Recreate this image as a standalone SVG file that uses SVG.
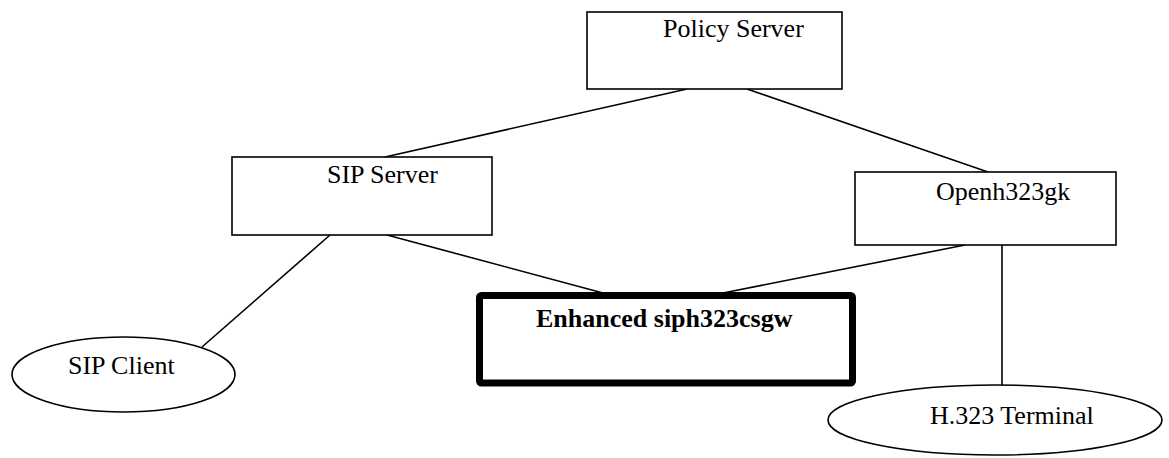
<svg xmlns="http://www.w3.org/2000/svg" width="1169" height="458" viewBox="0 0 1169 458">
<style>
.box{fill:#fff;stroke:#000;stroke-width:1.6}
.thick{fill:#fff;stroke:#000;stroke-width:7;stroke-linejoin:round}
.ell{fill:#fff;stroke:#000;stroke-width:1.6}
.lbl{font-family:"Liberation Serif","Times New Roman",serif;font-size:26px;fill:#000}
.bold{font-weight:bold}
.conn line{stroke:#000;stroke-width:1.6}
</style>
<rect width="1169" height="458" fill="#fff"/>
<g id="connectors" class="conn">
<line x1="687" y1="89" x2="385" y2="157"/>
<line x1="747" y1="89" x2="988" y2="172"/>
<line x1="330" y1="235" x2="202" y2="347"/>
<line x1="387" y1="235" x2="603" y2="293"/>
<line x1="965" y1="245" x2="723" y2="293"/>
<line x1="1002" y1="245" x2="1002" y2="385"/>
</g>
<g id="policy-server">
<rect class="box" x="587" y="12" width="255" height="77"/>
<text class="lbl" x="663" y="37">Policy Server</text>
</g>
<g id="sip-server">
<rect class="box" x="232" y="157" width="260" height="78"/>
<text class="lbl" x="327" y="183">SIP Server</text>
</g>
<g id="openh323gk">
<rect class="box" x="855" y="172" width="261" height="73"/>
<text class="lbl" x="936" y="200">Openh323gk</text>
</g>
<g id="enhanced-gw">
<rect class="thick" x="479.5" y="295.5" width="373" height="87.5" rx="2"/>
<text class="lbl bold" x="536" y="327">Enhanced siph323csgw</text>
</g>
<g id="sip-client">
<ellipse class="ell" cx="123.5" cy="374.5" rx="111.5" ry="37.5"/>
<text class="lbl" x="68" y="374">SIP Client</text>
</g>
<g id="h323-terminal">
<ellipse class="ell" cx="995" cy="420" rx="167" ry="35"/>
<text class="lbl" x="930" y="424">H.323 Terminal</text>
</g>
</svg>
